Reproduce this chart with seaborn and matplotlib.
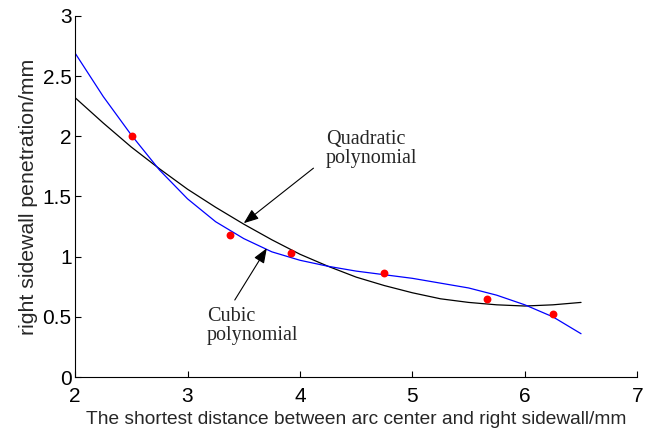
import numpy as np
import pandas as pd
import matplotlib
matplotlib.use("Agg")
import matplotlib.pyplot as plt
import seaborn as sns

# measured points
pts_x = [2.51, 3.38, 3.92, 4.75, 5.66, 6.25]
pts_y = [2.00, 1.18, 1.03, 0.865, 0.646, 0.524]

# curves
curve_x = [2.0, 2.25, 2.5, 2.75, 3.0, 3.25, 3.5, 3.75, 4.0, 4.25,
           4.5, 4.75, 5.0, 5.25, 5.5, 5.75, 6.0, 6.25, 6.5]
quad_y = [2.32, 2.11, 1.91, 1.73, 1.56, 1.41, 1.27, 1.14, 1.02, 0.92,
          0.83, 0.76, 0.70, 0.65, 0.62, 0.60, 0.59, 0.60, 0.62]
cubic_y = [2.69, 2.33, 2.01, 1.72, 1.48, 1.29, 1.15, 1.04, 0.97, 0.92,
           0.88, 0.85, 0.82, 0.78, 0.74, 0.68, 0.60, 0.50, 0.36]

x_ticks = [2, 3, 4, 5, 6, 7]
y_ticks = [0, 0.5, 1, 1.5, 2, 2.5, 3]
y_tick_labels = ["0", "0.5", "1", "1.5", "2", "2.5", "3"]

sns.set_style("ticks")
plt.rcParams["font.family"] = ["Liberation Sans", "DejaVu Sans"]

fig = plt.figure(figsize=(6.59, 4.28), dpi=100)
ax = fig.add_axes([0.114, 0.119, 0.853, 0.844])

curves = pd.DataFrame({"x": curve_x, "quad": quad_y, "cubic": cubic_y})
sns.lineplot(data=curves, x="x", y="quad", ax=ax, color="black", lw=0.9)
sns.lineplot(data=curves, x="x", y="cubic", ax=ax, color="blue", lw=0.9)
pts = pd.DataFrame({"x": pts_x, "y": pts_y})
sns.scatterplot(data=pts, x="x", y="y", ax=ax, color="red", s=32,
                edgecolor="red", linewidth=0, zorder=5)

ax.set_xlim(2, 7)
ax.set_ylim(0, 3)
ax.set_xticks(x_ticks)
ax.set_xticklabels([str(v) for v in x_ticks])
ax.set_yticks(y_ticks)
ax.set_yticklabels(y_tick_labels)
ax.tick_params(direction="in", length=4, width=0.8, labelsize=15, colors="black")
ax.tick_params(axis="x", pad=7)
ax.tick_params(axis="y", pad=2.5)
for s in ["top", "right"]:
    ax.spines[s].set_visible(False)
for s in ["left", "bottom"]:
    ax.spines[s].set_linewidth(0.8)
    ax.spines[s].set_color("black")

ax.set_xlabel("The shortest distance between arc center and right sidewall/mm",
              fontsize=13.8, labelpad=4)
ax.set_ylabel("right sidewall penetration/mm", fontsize=15.3, labelpad=3)

arrow = dict(arrowstyle="-|>,head_length=0.9,head_width=0.35", color="black",
             lw=0.8, shrinkA=0, shrinkB=0)
ax.annotate("", xy=(3.50, 1.278), xytext=(4.12, 1.735), arrowprops=arrow)
ax.annotate("", xy=(3.705, 1.07), xytext=(3.42, 0.64), arrowprops=arrow)
serif = ["Liberation Serif", "DejaVu Serif"]
ax.text(4.23, 2.05, "Quadratic\npolynomial", fontsize=14.5,
        family=serif, va="top", ha="left", linespacing=1.0)
ax.text(3.17, 0.585, "Cubic\npolynomial", fontsize=14.5,
        family=serif, va="top", ha="left", linespacing=1.0)

fig.savefig("out.png", dpi=100)
